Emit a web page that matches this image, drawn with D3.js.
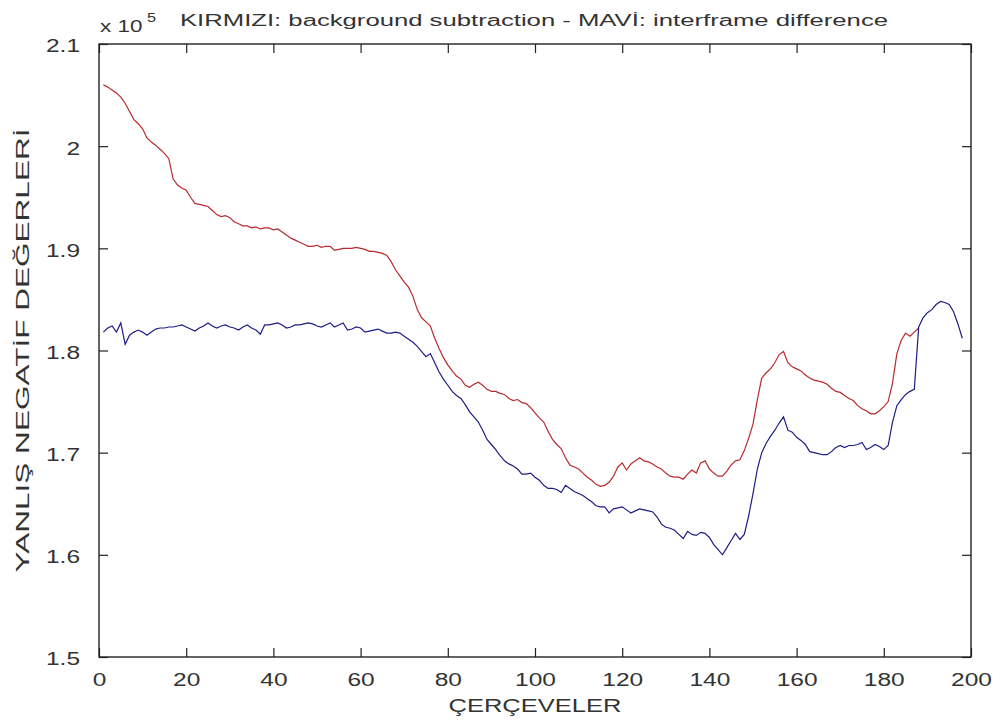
<!DOCTYPE html>
<html>
<head>
<meta charset="utf-8">
<script src="https://cdn.jsdelivr.net/npm/d3@7"></script>
<style>
  html, body { margin: 0; padding: 0; background: #fff; }
  svg { display: block; }
  text { font-family: "Liberation Sans", Arial, sans-serif; fill: #333; }
</style>
</head>
<body>
<svg id="chart" width="1003" height="726"></svg>
<script>
// False-negative counts per frame, in units of 10^5
const redValues = [
  2.060, 2.058, 2.055, 2.052, 2.048, 2.042, 2.034, 2.026, 2.022, 2.017,
  2.008, 2.004, 2.001, 1.997, 1.993, 1.988, 1.968, 1.962, 1.959, 1.957,
  1.950, 1.944, 1.943, 1.942, 1.941, 1.937, 1.933, 1.931, 1.932, 1.930,
  1.926, 1.924, 1.922, 1.922, 1.920, 1.921, 1.919, 1.920, 1.920, 1.918,
  1.919, 1.916, 1.913, 1.910, 1.908, 1.906, 1.904, 1.902, 1.902, 1.903,
  1.901, 1.902, 1.902, 1.898, 1.899, 1.900, 1.900, 1.900, 1.901, 1.900,
  1.899, 1.897, 1.897, 1.896, 1.895, 1.893, 1.887, 1.879, 1.873, 1.867,
  1.862, 1.853, 1.840, 1.832, 1.828, 1.824, 1.812, 1.802, 1.793, 1.786,
  1.780, 1.775, 1.772, 1.766, 1.764, 1.767, 1.769, 1.766, 1.762, 1.760,
  1.760, 1.758, 1.757, 1.753, 1.751, 1.752, 1.749, 1.748, 1.744, 1.739,
  1.734, 1.730, 1.721, 1.713, 1.708, 1.704, 1.695, 1.688, 1.686, 1.684,
  1.680, 1.676, 1.673, 1.669, 1.667, 1.668, 1.671, 1.677, 1.686, 1.690,
  1.683, 1.689, 1.692, 1.695, 1.692, 1.691, 1.689, 1.686, 1.684, 1.680,
  1.677, 1.676, 1.676, 1.674, 1.679, 1.683, 1.680, 1.690, 1.692, 1.684,
  1.680, 1.677, 1.677, 1.682, 1.688, 1.692, 1.693, 1.702, 1.714, 1.728,
  1.752, 1.773, 1.778, 1.782, 1.788, 1.796, 1.799, 1.788, 1.784, 1.782,
  1.780, 1.776, 1.773, 1.771, 1.770, 1.769, 1.767, 1.763, 1.760, 1.759,
  1.756, 1.753, 1.751, 1.746, 1.743, 1.741, 1.738, 1.738, 1.741, 1.745,
  1.750, 1.768, 1.797, 1.810, 1.817, 1.814, 1.818, 1.822
];

const blueValues = [
  1.818, 1.822, 1.824, 1.818, 1.827, 1.806, 1.815, 1.818, 1.820, 1.818,
  1.815, 1.818, 1.821, 1.822, 1.822, 1.823, 1.823, 1.824, 1.825, 1.823,
  1.821, 1.819, 1.822, 1.824, 1.827, 1.824, 1.822, 1.824, 1.825, 1.823,
  1.822, 1.820, 1.823, 1.825, 1.822, 1.820, 1.816, 1.825, 1.825, 1.826,
  1.827, 1.825, 1.822, 1.823, 1.825, 1.825, 1.826, 1.827, 1.826, 1.824,
  1.823, 1.825, 1.827, 1.823, 1.825, 1.827, 1.820, 1.821, 1.823, 1.822,
  1.818, 1.819, 1.820, 1.821, 1.819, 1.817, 1.817, 1.818, 1.817, 1.814,
  1.811, 1.808, 1.804, 1.799, 1.794, 1.797, 1.788, 1.779, 1.772, 1.766,
  1.760, 1.756, 1.753, 1.747, 1.740, 1.735, 1.730, 1.722, 1.713, 1.708,
  1.703, 1.697, 1.692, 1.689, 1.687, 1.684, 1.679, 1.679, 1.680, 1.676,
  1.673, 1.668, 1.665, 1.665, 1.664, 1.661, 1.668, 1.665, 1.662, 1.660,
  1.658, 1.655, 1.652, 1.648, 1.647, 1.647, 1.641, 1.645, 1.646, 1.647,
  1.644, 1.641, 1.643, 1.645, 1.644, 1.643, 1.642, 1.637, 1.630, 1.627,
  1.626, 1.624, 1.620, 1.616, 1.623, 1.620, 1.619, 1.622, 1.621, 1.617,
  1.610, 1.605, 1.600, 1.607, 1.614, 1.621, 1.615, 1.620, 1.638, 1.660,
  1.684, 1.700, 1.709, 1.716, 1.722, 1.729, 1.735, 1.722, 1.720, 1.715,
  1.712, 1.708, 1.701, 1.700, 1.699, 1.698, 1.698, 1.701, 1.705, 1.707,
  1.705, 1.707, 1.707, 1.708, 1.710, 1.703, 1.705, 1.708, 1.706, 1.703,
  1.707, 1.730, 1.746, 1.752, 1.757, 1.760, 1.762, 1.823, 1.832, 1.837,
  1.840, 1.845, 1.848, 1.847, 1.845, 1.838, 1.826, 1.812
];

const xTicks = [0, 20, 40, 60, 80, 100, 120, 140, 160, 180, 200];
const yTicks = [1.5, 1.6, 1.7, 1.8, 1.9, 2.0, 2.1];
const yTickLabels = ["1.5", "1.6", "1.7", "1.8", "1.9", "2", "2.1"];

const titleText = "KIRMIZI: background subtraction - MAVİ: interframe difference";
const xLabelText = "ÇERÇEVELER";
const yLabelText = "YANLIŞ NEGATİF DEĞERLERİ";

(function draw() {
  const svg = d3.select("#chart");
  const pL = 99, pR = 971, pT = 44, pB = 657;
  const tick = 9;
  const stretch = 1.4; // horizontal widening of the tick-label glyphs
  const ink = "#333";

  const x = d3.scaleLinear().domain([0, 200]).range([pL, pR]);
  const y = d3.scaleLinear().domain([1.5, 2.1]).range([pB, pT]);

  // widen a text selection by a factor using textLength
  function widen(sel, k) {
    sel.each(function () {
      const w = this.getComputedTextLength();
      d3.select(this).attr("textLength", w * k).attr("lengthAdjust", "spacingAndGlyphs");
    });
  }

  // data lines
  const line = d3.line()
    .x((d, i) => x(i + 1))
    .y(d => y(d));

  svg.append("path")
    .datum(redValues)
    .attr("d", line)
    .attr("fill", "none")
    .attr("stroke", "#b82a2e")
    .attr("stroke-width", 1.2);

  svg.append("path")
    .datum(blueValues)
    .attr("d", line)
    .attr("fill", "none")
    .attr("stroke", "#1d1d86")
    .attr("stroke-width", 1.2);

  // axes with inward ticks on all four sides
  const gBottom = svg.append("g").attr("transform", `translate(0,${pB})`)
    .call(d3.axisBottom(x).tickValues(xTicks).tickFormat(d3.format("d"))
      .tickSizeInner(-tick).tickSizeOuter(0).tickPadding(17));
  const gTop = svg.append("g").attr("transform", `translate(0,${pT})`)
    .call(d3.axisTop(x).tickValues(xTicks).tickFormat("")
      .tickSizeInner(-tick).tickSizeOuter(0));
  const gLeft = svg.append("g").attr("transform", `translate(${pL},0)`)
    .call(d3.axisLeft(y).tickValues(yTicks).tickFormat((d, i) => yTickLabels[i])
      .tickSizeInner(-tick).tickSizeOuter(0).tickPadding(19));
  const gRight = svg.append("g").attr("transform", `translate(${pR},0)`)
    .call(d3.axisRight(y).tickValues(yTicks).tickFormat("")
      .tickSizeInner(-tick).tickSizeOuter(0));

  [gBottom, gTop, gLeft, gRight].forEach(g => {
    g.select(".domain").remove();
    g.selectAll(".tick line").attr("stroke", "#222").attr("stroke-width", 1.2);
    g.selectAll("text")
      .attr("font-family", "Liberation Sans, Arial, sans-serif")
      .attr("font-size", 17.5)
      .attr("fill", ink);
  });
  gLeft.selectAll("text").attr("dy", "0.45em");
  widen(gBottom.selectAll("text"), stretch);
  widen(gLeft.selectAll("text"), stretch);

  // plot frame
  svg.append("rect")
    .attr("x", pL).attr("y", pT)
    .attr("width", pR - pL).attr("height", pB - pT)
    .attr("fill", "none")
    .attr("stroke", "#222")
    .attr("stroke-width", 1.4);

  // exponent marker above the y axis
  const expBase = svg.append("text")
    .attr("x", 100).attr("y", 32)
    .attr("font-size", 16)
    .attr("fill", ink)
    .text("x 10");
  widen(expBase, 1.4);
  const expSup = svg.append("text")
    .attr("x", 147).attr("y", 22)
    .attr("font-size", 12.5)
    .attr("fill", ink)
    .text("5");
  widen(expSup, 1.3);

  // title
  svg.append("text")
    .attr("x", 180).attr("y", 26)
    .attr("font-size", 16)
    .attr("fill", ink)
    .attr("textLength", 708)
    .attr("lengthAdjust", "spacingAndGlyphs")
    .text(titleText);

  // axis labels
  svg.append("text")
    .attr("x", (pL + pR) / 2).attr("y", 712)
    .attr("text-anchor", "middle")
    .attr("font-size", 17.5)
    .attr("fill", ink)
    .attr("textLength", 173)
    .attr("lengthAdjust", "spacingAndGlyphs")
    .text(xLabelText);

  svg.append("text")
    .attr("transform", `translate(29,${(pT + pB) / 2}) rotate(-90)`)
    .attr("text-anchor", "middle")
    .attr("font-size", 17.5)
    .attr("fill", ink)
    .attr("textLength", 444)
    .attr("lengthAdjust", "spacingAndGlyphs")
    .text(yLabelText);
})();
</script>
</body>
</html>
